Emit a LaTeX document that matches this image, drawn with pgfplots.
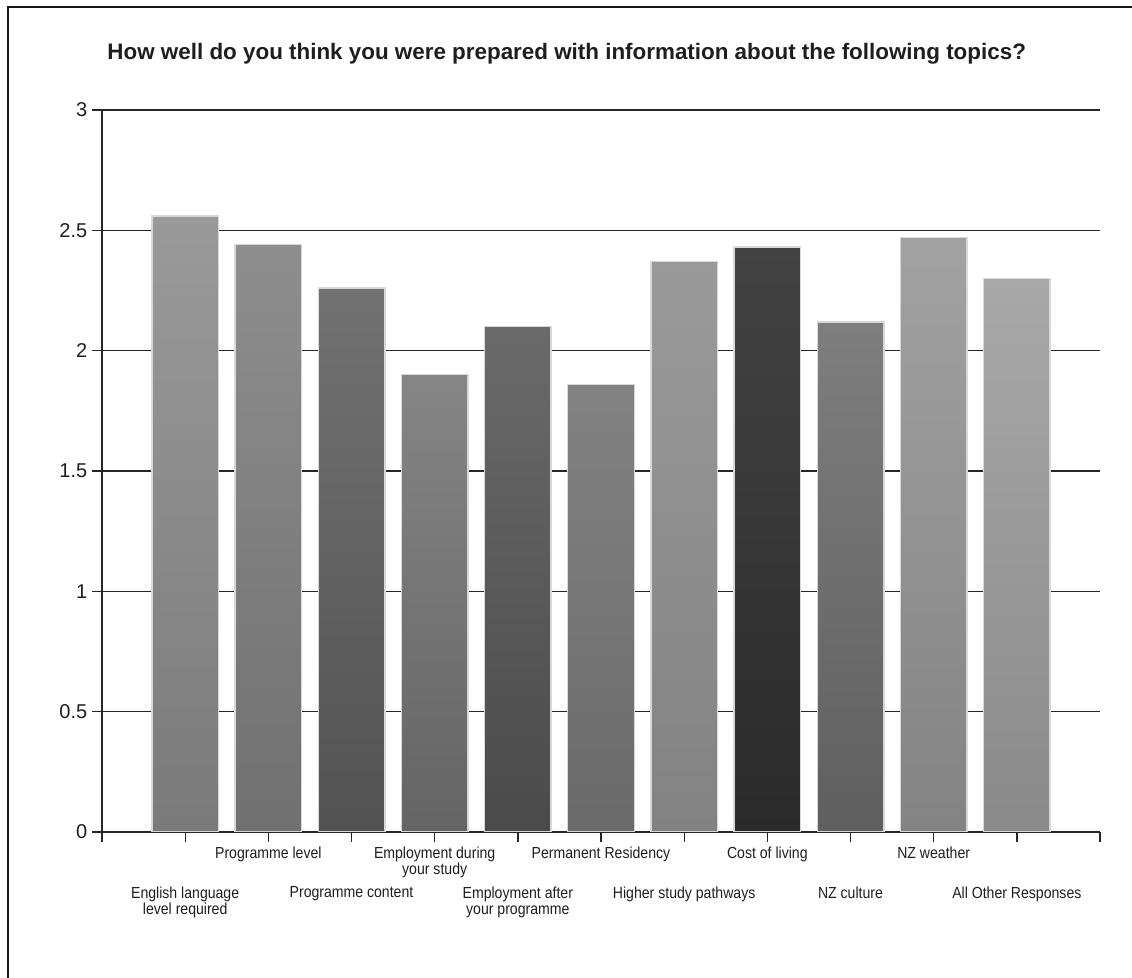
\documentclass[border=0pt]{standalone}
\usepackage{fontspec}
\setmainfont{Liberation Sans}
\newfontfamily\narrowfont[FakeStretch=0.88]{Liberation Sans}
\usepackage{pgfplots}
\pgfplotsset{compat=1.18}
\definecolor{ca}{HTML}{9A9A9A}\definecolor{cab}{HTML}{7A7A7A}
\definecolor{cb}{HTML}{8E8E8E}\definecolor{cbb}{HTML}{707070}
\definecolor{cc}{HTML}{727272}\definecolor{ccb}{HTML}{525252}
\definecolor{cd}{HTML}{858585}\definecolor{cdb}{HTML}{646464}
\definecolor{ce}{HTML}{6A6A6A}\definecolor{ceb}{HTML}{4A4A4A}
\definecolor{cf}{HTML}{828282}\definecolor{cfb}{HTML}{6A6A6A}
\definecolor{cg}{HTML}{9A9A9A}\definecolor{cgb}{HTML}{828282}
\definecolor{ch}{HTML}{434343}\definecolor{chb}{HTML}{2A2A2A}
\definecolor{ci}{HTML}{7E7E7E}\definecolor{cib}{HTML}{5F5F5F}
\definecolor{cj}{HTML}{A2A2A2}\definecolor{cjb}{HTML}{838383}
\definecolor{ck}{HTML}{A8A8A8}\definecolor{ckb}{HTML}{8A8A8A}
\definecolor{barline}{HTML}{D8D8D8}
\definecolor{txt}{HTML}{1E1E1E}
\begin{document}
\begin{tikzpicture}
\path[use as bounding box] (0,0) rectangle (849pt,733.5pt);
\draw[line width=1.5pt, black!90] (6pt,0) -- (6pt,728.25pt) -- (849pt,728.25pt);
\node[anchor=base, text=txt, font=\fontsize{16.8}{19}\selectfont\bfseries] at (425pt,689pt) {How well do you think you were prepared with information about the following topics?};
\begin{axis}[
  at={(76.5pt,109.5pt)}, anchor=south west,
  scale only axis, width=748.5pt, height=541.5pt,
  xmin=0, xmax=12, ymin=0, ymax=3,
  ytick={0,0.5,1,1.5,2,2.5,3},
  yticklabels={0,0.5,1,1.5,2,2.5,3},
  ymajorgrids, grid style={line width=1pt, black!85},
  axis x line*=bottom, axis y line*=left,
  axis line style={line width=1pt, black!85, -},
  tick style={line width=1pt, black!85},
  tick align=outside, major tick length=7.5pt,
  xtick={0,...,12},
  xticklabels={,,Programme level,,Employment during\\your study,,Permanent Residency,,Cost of living,,NZ weather,,},
  x tick label style={font=\narrowfont\fontsize{12}{12.5}\selectfont, align=center, text=txt},
  y tick label style={font=\fontsize{15}{18}\selectfont, text=txt},
  extra x ticks={1,3,5,7,9,11},
  extra x tick labels={English language\\level required,Programme content,Employment after\\your programme,Higher study pathways,NZ culture,All Other Responses},
  extra x tick style={major tick length=7.5pt, tick label style={yshift=-30pt}},
]
\addplot[ybar, bar width=0.8, bar shift=0pt, draw=barline, line width=1.1pt, top color=ca, bottom color=cab] coordinates {(1,2.56)};
\addplot[ybar, bar width=0.8, bar shift=0pt, draw=barline, line width=1.1pt, top color=cb, bottom color=cbb] coordinates {(2,2.44)};
\addplot[ybar, bar width=0.8, bar shift=0pt, draw=barline, line width=1.1pt, top color=cc, bottom color=ccb] coordinates {(3,2.26)};
\addplot[ybar, bar width=0.8, bar shift=0pt, draw=barline, line width=1.1pt, top color=cd, bottom color=cdb] coordinates {(4,1.90)};
\addplot[ybar, bar width=0.8, bar shift=0pt, draw=barline, line width=1.1pt, top color=ce, bottom color=ceb] coordinates {(5,2.10)};
\addplot[ybar, bar width=0.8, bar shift=0pt, draw=barline, line width=1.1pt, top color=cf, bottom color=cfb] coordinates {(6,1.86)};
\addplot[ybar, bar width=0.8, bar shift=0pt, draw=barline, line width=1.1pt, top color=cg, bottom color=cgb] coordinates {(7,2.37)};
\addplot[ybar, bar width=0.8, bar shift=0pt, draw=barline, line width=1.1pt, top color=ch, bottom color=chb] coordinates {(8,2.43)};
\addplot[ybar, bar width=0.8, bar shift=0pt, draw=barline, line width=1.1pt, top color=ci, bottom color=cib] coordinates {(9,2.12)};
\addplot[ybar, bar width=0.8, bar shift=0pt, draw=barline, line width=1.1pt, top color=cj, bottom color=cjb] coordinates {(10,2.47)};
\addplot[ybar, bar width=0.8, bar shift=0pt, draw=barline, line width=1.1pt, top color=ck, bottom color=ckb] coordinates {(11,2.30)};
\end{axis}
\end{tikzpicture}
\end{document}
